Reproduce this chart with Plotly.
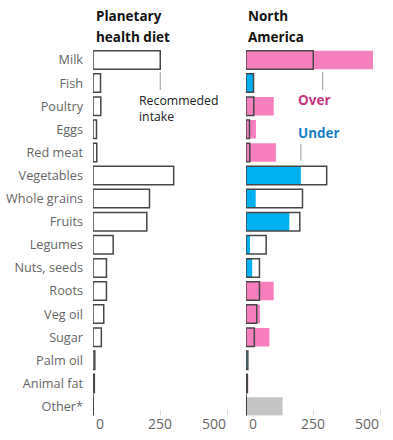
import plotly.graph_objects as go

W, H = 393, 440

categories = ["Milk", "Fish", "Poultry", "Eggs", "Red meat", "Vegetables", "Whole grains",
              "Fruits", "Legumes", "Nuts, seeds", "Roots", "Veg oil", "Sugar", "Palm oil",
              "Animal fat", "Other*"]
recommended = [250, 28, 29, 13, 14, 300, 210, 200, 75, 50, 50, 40, 31, 6.8, 5, 0]
north_america = [472, 26, 103, 37, 111, 204, 36, 161, 15, 23, 103, 52, 87, 3, 8, 136]
tick_values = [0, 250, 500]
tick_labels = ["0", "250", "500"]

PINK = "#f77fbe"
BLUE = "#00b0f0"
GREY = "#c4c4c4"
OUTLINE = "#474747"
FONT = "Open Sans"

colors = []
for r, a in zip(recommended, north_america):
    if r == 0:
        colors.append(GREY)
    elif a > r:
        colors.append(PINK)
    else:
        colors.append(BLUE)

scale = 0.269  # px per unit
x1_dom = [93 / W, 236 / W]
x2_dom = [246 / W, 391 / W]
y_dom = [1 - 415.5 / H, 1 - 45 / H]
y_range = [15.39, -0.649]

fig = go.Figure()
fig.add_trace(go.Bar(y=categories, x=recommended, orientation="h", width=0.8,
                     marker=dict(color="white", line=dict(color=OUTLINE, width=1.5)),
                     xaxis="x", yaxis="y", hoverinfo="skip"))
fig.add_trace(go.Bar(y=categories, x=north_america, orientation="h", width=0.8,
                     marker=dict(color=colors, line=dict(width=0)),
                     xaxis="x2", yaxis="y2", hoverinfo="skip"))
fig.add_trace(go.Bar(y=categories, x=recommended, orientation="h", width=0.8,
                     marker=dict(color="rgba(0,0,0,0)", line=dict(color=OUTLINE, width=1.5)),
                     xaxis="x2", yaxis="y2", hoverinfo="skip"))
for xa, ya in (("x", "y"), ("x2", "y2")):
    fig.add_trace(go.Scatter(x=[recommended[-1]], y=[categories[-1]], mode="markers",
                             marker=dict(symbol="line-ns", size=18,
                                         line=dict(color="#333333", width=1.5)),
                             xaxis=xa, yaxis=ya, hoverinfo="skip"))

axis_common = dict(showgrid=False, zeroline=False, showline=False, tickvals=tick_values,
                   ticks="inside", ticklen=6, tickcolor="#dddddd", tickwidth=1,
                   showticklabels=False, fixedrange=True)
fig.update_layout(
    width=W, height=H, margin=dict(l=0, r=0, t=0, b=0),
    paper_bgcolor="white", plot_bgcolor="white", showlegend=False, barmode="overlay",
    xaxis=dict(domain=x1_dom, range=[0, (236 - 93) / scale], anchor="y", **axis_common),
    xaxis2=dict(domain=x2_dom, range=[0, (391 - 246) / scale], anchor="y2", **axis_common),
    yaxis=dict(domain=y_dom, range=y_range, anchor="x", type="category",
               categoryorder="array", categoryarray=categories, showgrid=False,
               zeroline=False, showline=False, ticks="", ticklabelstandoff=9,
               tickfont=dict(family=FONT, size=12.7, color="#666666"), automargin=False),
    yaxis2=dict(domain=y_dom, range=y_range, anchor="x2", type="category",
                categoryorder="array", categoryarray=categories, showgrid=False,
                zeroline=False, showline=False, ticks="", showticklabels=False),
)

ann = []
for xr in ("x", "x2"):
    for v, lab, anc in zip(tick_values, tick_labels, ["left", "center", "right"]):
        ann.append(dict(x=v, xref=xr, y=1 - 423 / H, yref="paper", text=lab, showarrow=False,
                        xanchor=anc, yanchor="middle", xshift=1 if anc == "left" else 0,
                        font=dict(family=FONT, size=14, color="#666666")))

titles = [("Planetary", 94, 16), ("health diet", 94, 37), ("North", 246, 16), ("America", 246, 37)]
for t, xp, yp in titles:
    ann.append(dict(x=xp / W, xref="paper", y=1 - yp / H, yref="paper", text="<b>" + t + "</b>",
                    showarrow=False, xanchor="left", yanchor="middle",
                    font=dict(family=FONT, size=13.5, color="#111111")))

ann.append(dict(x=(137 - 93) / scale, xref="x", y=2.12, yref="y", text="Recommeded<br>intake",
                showarrow=False, xanchor="left", yanchor="middle", align="left",
                font=dict(family=FONT, size=12.3, color="#222222")))
ann.append(dict(x=(296 - 246) / scale, xref="x2", y=1.73, yref="y2", text="<b>Over</b>",
                showarrow=False, xanchor="left", yanchor="middle",
                font=dict(family=FONT, size=13.5, color="#c8367f")))
ann.append(dict(x=(296 - 246) / scale, xref="x2", y=3.16, yref="y2", text="<b>Under</b>",
                showarrow=False, xanchor="left", yanchor="middle",
                font=dict(family=FONT, size=13.5, color="#1a7fc1")))
fig.update_layout(annotations=ann)

line_style = dict(color="#999999", width=1)
fig.add_shape(type="line", xref="x", yref="y", x0=recommended[0], x1=recommended[0],
              y0=0.52, y1=1.3, line=line_style)
fig.add_shape(type="line", xref="x2", yref="y2", x0=285, x1=285, y0=0.52, y1=1.3, line=line_style)
fig.add_shape(type="line", xref="x2", yref="y2", x0=north_america[5], x1=north_america[5],
              y0=3.64, y1=4.35, line=line_style)

fig.write_html("out.html", config={"displayModeBar": False},
               post_script="document.body.style.margin='0px';document.body.style.padding='0px';")
